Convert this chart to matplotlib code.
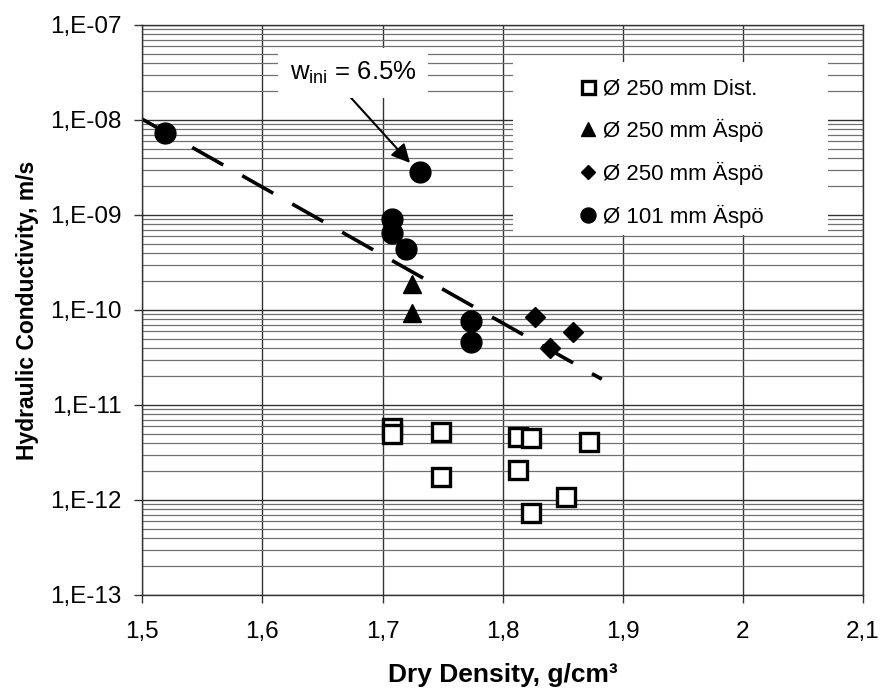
import numpy as np
import matplotlib
matplotlib.use("Agg")
import matplotlib.pyplot as plt
from matplotlib.ticker import FixedLocator, FuncFormatter, LogLocator, NullFormatter
from matplotlib.patches import Rectangle

plt.rcParams["font.family"] = ["Liberation Sans", "DejaVu Sans"]
plt.rcParams["mathtext.default"] = "regular"

# dry density (g/cm3) and hydraulic conductivity (m/s)
dist250_x = [1.708, 1.708, 1.749, 1.749, 1.813, 1.824, 1.872, 1.813, 1.853, 1.824]
dist250_k = [5.7e-12, 4.95e-12, 5.2e-12, 1.75e-12, 4.6e-12, 4.5e-12, 4.1e-12, 2.07e-12, 1.08e-12, 7.3e-13]

aspo250_tri_x = [1.7245, 1.7245]
aspo250_tri_k = [1.88e-10, 9.3e-11]

aspo250_dia_x = [1.827, 1.8586, 1.839]
aspo250_dia_k = [8.4e-11, 5.9e-11, 4.0e-11]

aspo101_x = [1.519, 1.731, 1.708, 1.708, 1.7195, 1.7737, 1.7737]
aspo101_k = [7.3e-9, 2.84e-9, 9.1e-10, 6.5e-10, 4.4e-10, 7.7e-11, 4.6e-11]

# dashed trend line end points
trend_x = [1.5, 1.8825]
trend_k = [1.02e-8, 1.87e-11]

labels = ["Ø 250 mm Dist.", "Ø 250 mm Äspö", "Ø 250 mm Äspö", "Ø 101 mm Äspö"]
xticks = [1.5, 1.6, 1.7, 1.8, 1.9, 2.0, 2.1]
yticks = [1e-13, 1e-12, 1e-11, 1e-10, 1e-9, 1e-8, 1e-7]

fig = plt.figure(figsize=(8.82, 6.92), dpi=100)
ax = fig.add_axes([0.1613, 0.1402, 0.8172, 0.8237])

ax.set_yscale("log")
ax.set_xlim(1.5, 2.1)
ax.set_ylim(1e-13, 1e-7)

ax.xaxis.set_major_locator(FixedLocator(xticks))
ax.xaxis.set_major_formatter(FuncFormatter(lambda v, p: ("%g" % round(v, 1)).replace(".", ",")))
ax.yaxis.set_major_locator(FixedLocator(yticks))
ax.yaxis.set_major_formatter(FuncFormatter(lambda v, p: "1,E-%02d" % round(-np.log10(v))))
ax.yaxis.set_minor_locator(LogLocator(base=10, subs=np.arange(2, 10), numticks=20))
ax.yaxis.set_minor_formatter(NullFormatter())

ax.grid(which="major", axis="both", color="#333333", lw=1.0)
ax.grid(which="minor", axis="y", color="#707070", lw=0.9)
ax.set_axisbelow(True)
ax.tick_params(which="major", direction="out", length=6, width=1, labelsize=17.5, color="#333333")
ax.tick_params(axis="x", pad=13)
ax.tick_params(axis="y", pad=9)
ax.tick_params(which="minor", length=0)
for s in ax.spines.values():
    s.set_color("#333333")
    s.set_linewidth(1.0)

# white legend area covering the grid
ax.add_patch(Rectangle((0.5144, 0.6316), 0.437, 0.3034, transform=ax.transAxes,
                       facecolor="white", edgecolor="none", zorder=1.5))

ax.plot(trend_x, trend_k, color="black", lw=2.6, dashes=(9.86, 6.04), zorder=2)

h1, = ax.plot(dist250_x, dist250_k, ls="none", marker="s", ms=13, mfc="white", mec="black", mew=2.4, zorder=3)
h2, = ax.plot(aspo250_tri_x, aspo250_tri_k, ls="none", marker="^", ms=13.5, color="black", zorder=3)
h3, = ax.plot(aspo250_dia_x, aspo250_dia_k, ls="none", marker="D", ms=10.5, color="black", zorder=3)
h4, = ax.plot(aspo101_x, aspo101_k, ls="none", marker="o", ms=15, color="black", zorder=3)

leg = ax.legend([h1, h2, h3, h4], labels, loc="upper left", bbox_to_anchor=(0.575, 0.945),
                frameon=False, fontsize=16, markerscale=0.72, handlelength=0.8,
                handletextpad=0.3, labelspacing=0.88, borderpad=0.5)
leg.set_zorder(4)

ax.annotate(r"w$_{ini}$ = 6.5%", xy=(1.7229, 3.53e-9), xytext=(1.6754, 3.13e-8),
            fontsize=18.5, ha="center", va="center",
            bbox=dict(boxstyle="square,pad=0.45", fc="white", ec="none"),
            arrowprops=dict(arrowstyle="-|>", color="black", lw=1.5, mutation_scale=28,
                            shrinkA=0, shrinkB=0, relpos=(0.4, 0.0)),
            zorder=5)

ax.set_xlabel("Dry Density, g/cm³", fontsize=19, fontweight="bold", labelpad=14)
ax.set_ylabel("Hydraulic Conductivity, m/s", fontsize=16.5, fontweight="bold", labelpad=8)

fig.savefig("out.png", dpi=100, facecolor="white")
